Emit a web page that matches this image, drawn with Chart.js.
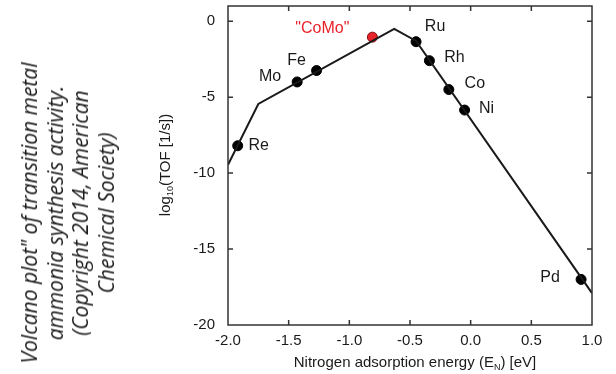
<!DOCTYPE html>
<html>
<head>
<meta charset="utf-8">
<script src="https://cdn.jsdelivr.net/npm/chart.js@4.4.0/dist/chart.umd.min.js"></script>
<style>
  html, body { margin: 0; padding: 0; background: #fff; }
  #wrap { position: relative; width: 616px; height: 374px; }
  #note {
    position: absolute; left: 68px; top: 213px;
    transform: translate(-50%, -50%) rotate(-90deg);
    font: italic 21px "Open Sans", sans-serif; line-height: 25.5px;
    text-align: center; white-space: nowrap; color: #1a1a1a;
  }
</style>
</head>
<body>
<div id="wrap">
  <div id="note">Volcano plot" of transition metal<br>ammonia synthesis activity.<br>(Copyright 2014, American<br>Chemical Society)</div>
  <canvas id="myChart" width="616" height="374"></canvas>
</div>
<script>
// catalysts and their values
const metals = ['Re', 'Mo', 'Fe', '"CoMo"', 'Ru', 'Rh', 'Co', 'Ni', 'Pd'];
const energies = [-1.92, -1.43, -1.27, -0.81, -0.45, -0.34, -0.18, -0.05, 0.91];
const logTof = [-8.2, -4.0, -3.25, -1.05, -1.35, -2.6, -4.5, -5.85, -17.0];

// volcano curve
const curveE = [-2.0, -1.75, -0.63, -0.45, 1.0];
const curveLog = [-9.45, -5.45, -0.5, -1.3, -17.9];

const xTicks = [-2.0, -1.5, -1.0, -0.5, 0.0, 0.5, 1.0];
const yTicks = [-20, -15, -10, -5, 0];

// label offsets in px from each point
const labelOffsets = [[21, 0], [-27, -5], [-20, -10], [-50, -9], [19, -15], [25, -3], [26, -6], [22, -1], [-31, -2]];

const ink = '#1a1a1a';
const font = '"Liberation Sans", Arial, sans-serif';

const framePlugin = {
    id: 'frame',
    afterDatasetsDraw(chart) {
        const c = chart.ctx;
        const a = chart.chartArea;
        const xs = chart.scales.x, ys = chart.scales.y;
        c.save();
        c.strokeStyle = '#333';
        c.lineWidth = 1.5;
        c.strokeRect(a.left, a.top, a.right - a.left, a.bottom - a.top);
        c.beginPath();
        xTicks.slice(1, -1).forEach(v => {
            const px = xs.getPixelForValue(v);
            c.moveTo(px, a.bottom); c.lineTo(px, a.bottom - 5);
            c.moveTo(px, a.top); c.lineTo(px, a.top + 5);
        });
        yTicks.slice(1).forEach(v => {
            const py = ys.getPixelForValue(v);
            c.moveTo(a.left, py); c.lineTo(a.left + 5, py);
            c.moveTo(a.right, py); c.lineTo(a.right - 5, py);
        });
        c.stroke();

        // point labels
        c.font = '16px ' + font;
        c.textAlign = 'center';
        c.textBaseline = 'middle';
        metals.forEach((m, i) => {
            const px = xs.getPixelForValue(energies[i]) + labelOffsets[i][0];
            const py = ys.getPixelForValue(logTof[i]) + labelOffsets[i][1];
            c.fillStyle = m === '"CoMo"' ? '#e8222a' : ink;
            c.fillText(m, px, py);
        });

        // axis titles with subscripts
        c.fillStyle = ink;
        drawSub(c, ['log', '10', '(TOF [1/s])'], 165, 165, true);
        drawSub(c, ['Nitrogen adsorption energy (E', 'N', ') [eV]'], 415, 362, false);
        c.restore();
    }
};

function drawSub(c, parts, cx, cy, rotate) {
    const big = '15px ' + font, small = '9px ' + font;
    c.font = big; const w0 = c.measureText(parts[0]).width;
    c.font = small; const w1 = c.measureText(parts[1]).width;
    c.font = big; const w2 = c.measureText(parts[2]).width;
    const total = w0 + w1 + w2;
    c.save();
    c.translate(cx, cy);
    if (rotate) c.rotate(-Math.PI / 2);
    c.textAlign = 'left';
    c.textBaseline = 'alphabetic';
    let x = -total / 2;
    c.font = big; c.fillText(parts[0], x, 5); x += w0;
    c.font = small; c.fillText(parts[1], x, 8); x += w1;
    c.font = big; c.fillText(parts[2], x, 5);
    c.restore();
}

new Chart(document.getElementById('myChart'), {
    type: 'scatter',
    data: {
        datasets: [{
            data: curveE.map((e, i) => ({ x: e, y: curveLog[i] })),
            showLine: true,
            borderColor: ink,
            borderWidth: 2,
            pointRadius: 0
        }, {
            data: energies.map((e, i) => ({ x: e, y: logTof[i] })),
            pointRadius: 5,
            pointBackgroundColor: metals.map(m => m === '"CoMo"' ? '#e8222a' : '#000'),
            pointBorderColor: metals.map(m => m === '"CoMo"' ? '#7a1010' : '#000'),
            pointBorderWidth: 1
        }]
    },
    options: {
        responsive: false,
        animation: false,
        layout: { padding: { left: 0, top: 6, right: 24, bottom: 0 } },
        plugins: { legend: { display: false }, tooltip: { enabled: false } },
        scales: {
            x: {
                type: 'linear', min: -2, max: 1,
                afterFit: s => { s.height = 49; s.paddingLeft = 0; s.paddingRight = 0; },
                afterBuildTicks: s => { s.ticks = xTicks.map(v => ({ value: v })); },
                grid: { display: false, drawTicks: false },
                border: { display: false },
                ticks: { padding: 7, color: ink, font: { family: font, size: 15 }, callback: v => v.toFixed(1) }
            },
            y: {
                type: 'linear', min: -20, max: 1,
                afterFit: s => { s.width = 228; s.paddingTop = 0; s.paddingBottom = 0; },
                afterBuildTicks: s => { s.ticks = yTicks.map(v => ({ value: v })); },
                grid: { display: false, drawTicks: false },
                border: { display: false },
                ticks: { padding: 13, color: ink, font: { family: font, size: 15 }, callback: v => String(v) }
            }
        }
    },
    plugins: [framePlugin]
});
</script>
</body>
</html>
